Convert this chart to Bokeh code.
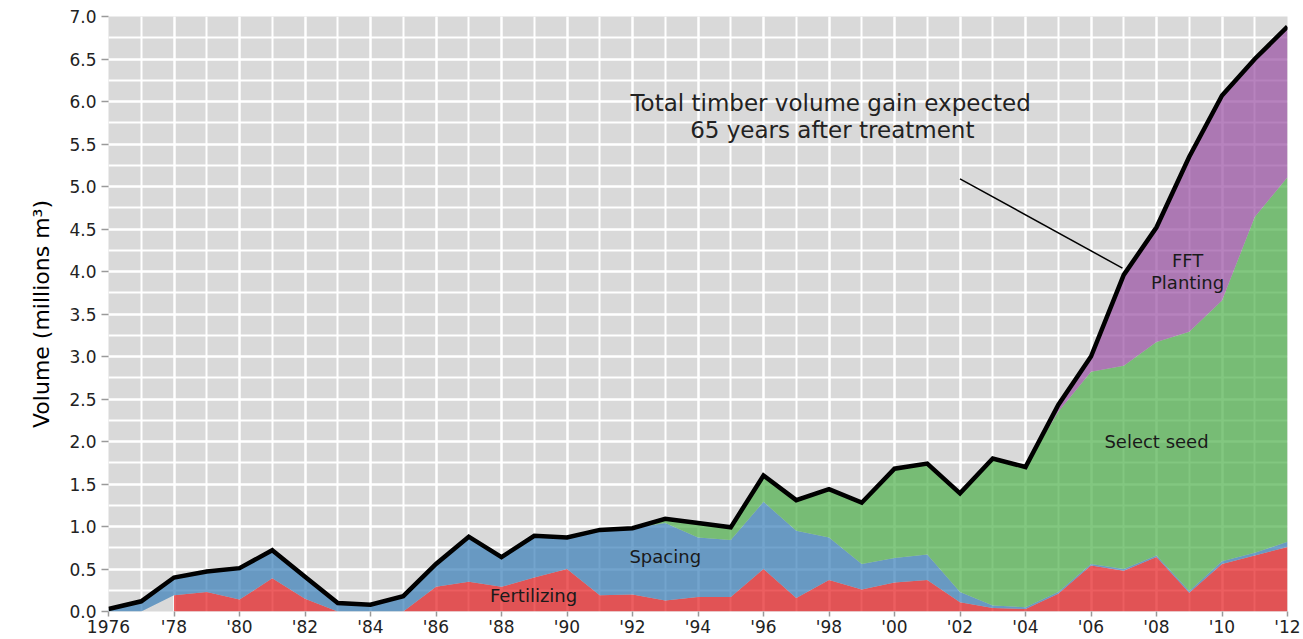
import numpy as np
from bokeh.plotting import figure
from bokeh.models import SingleIntervalTicker, Range1d, CustomJSTickFormatter
from bokeh.core.properties import value
from bokeh.embed import file_html
from bokeh.resources import INLINE

years = list(range(1976, 2013))
fertilizing = [None, None, 0.19, 0.23, 0.14, 0.39, 0.15, 0.0, 0.0, 0.0,
               0.29, 0.35, 0.29, 0.40, 0.50, 0.19, 0.20, 0.13, 0.17, 0.17,
               0.50, 0.16, 0.37, 0.26, 0.34, 0.37, 0.11, 0.04, 0.03, 0.21,
               0.54, 0.48, 0.64, 0.22, 0.56, 0.66, 0.76]
spacing = [0.03, 0.12, 0.21, 0.24, 0.37, 0.33, 0.26, 0.10, 0.08, 0.18,
           0.27, 0.53, 0.35, 0.49, 0.37, 0.77, 0.78, 0.91, 0.70, 0.67,
           0.79, 0.79, 0.50, 0.30, 0.29, 0.30, 0.12, 0.03, 0.02, 0.02,
           0.02, 0.02, 0.02, 0.02, 0.03, 0.03, 0.06]
select_seed = [0, 0, 0, 0, 0, 0, 0, 0, 0, 0,
               0, 0, 0, 0, 0, 0, 0, 0.05, 0.17, 0.15,
               0.31, 0.36, 0.57, 0.72, 1.05, 1.07, 1.16, 1.73, 1.65, 2.12,
               2.26, 2.39, 2.51, 3.05, 3.07, 3.95, 4.29]
fft_planting = [0, 0, 0, 0, 0, 0, 0, 0, 0, 0,
                0, 0, 0, 0, 0, 0, 0, 0, 0, 0,
                0, 0, 0, 0, 0, 0, 0, 0, 0, 0.08,
                0.18, 1.07, 1.35, 2.06, 2.41, 1.86, 1.77]

series_names = ["Fertilizing", "Spacing", "Select seed", "FFT Planting"]
colors = ["#E41A1C", "#377EB8", "#4DAF4A", "#984EA3"]

x = np.array(years, dtype=float)
fert = np.array([np.nan if v is None else v for v in fertilizing], dtype=float)
fert0 = np.nan_to_num(fert)
c1 = fert0 + np.array(spacing)
c2 = c1 + np.array(select_seed)
c3 = c2 + np.array(fft_planting)

FONT = "DejaVu Sans"

p = figure(width=1301, height=639, output_backend="svg", toolbar_location=None,
           x_range=Range1d(1976, 2012), y_range=Range1d(0, 7.0),
           min_border_left=108, min_border_top=16, min_border_right=14,
           min_border_bottom=28)
p.outline_line_color = None
p.background_fill_color = "#D9D9D9"
p.border_fill_color = "white"

# stacked areas
mask = ~np.isnan(fert)
p.varea(x=x[mask], y1=np.zeros(mask.sum()), y2=fert[mask], fill_color=colors[0], fill_alpha=0.7)
p.varea(x=x, y1=fert0, y2=c1, fill_color=colors[1], fill_alpha=0.7)
p.varea(x=x, y1=c1, y2=c2, fill_color=colors[2], fill_alpha=0.7)
p.varea(x=x, y1=c2, y2=c3, fill_color=colors[3], fill_alpha=0.7)

# total line
p.line(x, c3, line_color="black", line_width=4.5, line_join="miter")

# axes
p.xaxis.ticker = SingleIntervalTicker(interval=2, num_minor_ticks=2)
p.yaxis.ticker = SingleIntervalTicker(interval=0.5, num_minor_ticks=2)
labels = {}
for yr in range(1976, 2013, 2):
    labels[yr] = "1976" if yr == 1976 else "'" + str(yr)[2:]
p.xaxis.major_label_overrides = labels
p.yaxis.formatter = CustomJSTickFormatter(code="return tick.toFixed(1);")

for ax in (p.xaxis[0], p.yaxis[0]):
    ax.axis_line_color = None
    ax.major_tick_line_color = "#9A9A9A"
    ax.major_tick_line_width = 1.5
    ax.major_tick_in = 0
    ax.major_tick_out = 7
    ax.minor_tick_line_color = None
    ax.major_label_text_font = FONT
    ax.major_label_text_font_size = "17px"
    ax.major_label_text_color = "#222222"
p.xaxis.major_tick_out = 5
p.xaxis.major_label_standoff = 0
p.yaxis.major_label_standoff = 5

p.yaxis.axis_label = "Volume (millions m\u00b3)"
p.yaxis.axis_label_text_font = FONT
p.yaxis.axis_label_text_font_style = "normal"
p.yaxis.axis_label_text_font_size = "22px"
p.yaxis.axis_label_text_color = "black"
p.yaxis.axis_label_standoff = 12

p.grid.grid_line_color = "white"
p.grid.grid_line_width = 2
p.grid.minor_grid_line_color = "white"
p.grid.minor_grid_line_width = 2

# annotations
p.text(x=[1998.05, 1998.1], y=[5.98, 5.66],
       text=["Total timber volume gain expected", "65 years after treatment"],
       text_align="center", text_baseline="middle",
       text_font=value(FONT), text_font_size="23px", text_color="#222222")
p.line([2002.0, 2006.96], [5.09, 4.04], line_color="black", line_width=1.5)

p.text(x=[1988.98, 1993.0, 2008.0, 2008.95, 2008.95],
       y=[0.19, 0.65, 2.0, 4.13, 3.87],
       text=["Fertilizing", "Spacing", "Select seed", "FFT", "Planting"],
       text_align="center", text_baseline="middle",
       text_font=value(FONT), text_font_size="18px", text_color="#1a1a1a")

open("out.html", "w").write(file_html(p, INLINE))
